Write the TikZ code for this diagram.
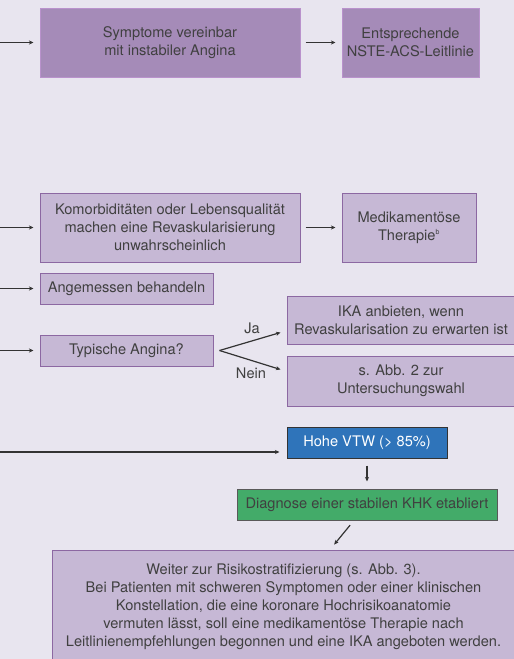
\documentclass[tikz,border=0pt]{standalone}
\usepackage{fontspec}
\setmainfont{TeX Gyre Heros}
\usetikzlibrary{arrows.meta,calc}
\definecolor{bgcol}{HTML}{E8E5EF}
\definecolor{darkfill}{HTML}{A58BB8}
\definecolor{darkline}{HTML}{B992CC}
\definecolor{lightfill}{HTML}{C6B8D5}
\definecolor{lightline}{HTML}{8C68A2}
\definecolor{bluefill}{HTML}{2F74BA}
\definecolor{greenfill}{HTML}{43AB69}
\definecolor{txt}{HTML}{404040}
\definecolor{arrcol}{HTML}{333333}
\begin{document}
\begin{tikzpicture}[x=1pt,y=-1pt,
  every node/.style={font=\fontsize{14.6}{17.9}\selectfont, text=txt, align=center, inner sep=0pt},
  boxbase/.style={rectangle, line width=1pt},
  strongbox/.style={boxbase, fill=darkfill, draw=darkline},
  softbox/.style={boxbase, fill=lightfill, draw=lightline},
  vtwbox/.style={boxbase, fill=bluefill, draw=arrcol, text=white},
  khkbox/.style={boxbase, fill=greenfill, draw=black!65},
  arr/.style={draw=arrcol, line width=1.2pt, -{Stealth[length=4.5pt,width=4pt,inset=1.2pt]}},
  branchlbl/.style={text=txt}
]
% canvas
\fill[bgcol] (0,0) rectangle (514,659);
\useasboundingbox (0,0) rectangle (514,659);

% boxes
\node[strongbox, minimum width=260pt, minimum height=69pt] (sym) at (170,42.5)
  {Symptome vereinbar\\mit instabiler Angina};
\node[strongbox, minimum width=137pt, minimum height=69pt] (nste) at (410.5,42.5)
  {Entsprechende\\NSTE-ACS-Leitlinie};

\node[softbox, minimum width=260pt, minimum height=69pt] (kom) at (170,227.5)
  {Komorbiditäten oder Lebensqualität\\machen eine Revaskularisierung\\unwahrscheinlich};
\node[softbox, minimum width=134pt, minimum height=69pt] (med) at (409,227.5)
  {Medikamentöse\\Therapie\textsuperscript{\fontsize{7}{8}\selectfont b}};

\node[softbox, minimum width=173pt, minimum height=31pt] (ang) at (126.5,288.5)
  {Angemessen behandeln};
\node[softbox, minimum width=173pt, minimum height=31pt] (typ) at (126.5,350.5)
  {Typische Angina?};

\node[softbox, minimum width=228pt, minimum height=48pt] (ika) at (401,320)
  {IKA anbieten, wenn\\Revaskularisation zu erwarten ist};
\node[softbox, minimum width=228pt, minimum height=50pt] (abb) at (401,381)
  {s. Abb. 2 zur\\Untersuchungswahl};

\node[vtwbox, minimum width=160pt, minimum height=31pt] (vtw) at (367,442.5)
  {Hohe VTW (> 85\%)};
\node[khkbox, minimum width=260pt, minimum height=31pt] (khk) at (367,504.5)
  {Diagnose einer stabilen KHK etabliert};

\node[softbox, minimum width=463pt, minimum height=112pt, anchor=north] (risk) at (283.5,550)
  {Weiter zur Risikostratifizierung (s. Abb. 3).\\
   Bei Patienten mit schweren Symptomen oder einer klinischen\\
   Konstellation, die eine koronare Hochrisikoanatomie\\
   vermuten lässt, soll eine medikamentöse Therapie nach\\
   Leitlinienempfehlungen begonnen und eine IKA angeboten werden.};

% incoming connectors from the left margin
\coordinate (in1) at (0,42.5);
\coordinate (in2) at (0,227.5);
\coordinate (in3) at (0,288.5);
\coordinate (in4) at (0,350.5);
\coordinate (in5) at (0,452);
\draw[arr, shorten >=6pt] (in1) -- (sym);
\draw[arr, shorten >=6pt] (in2) -- (kom);
\draw[arr, shorten >=6pt] (in3) -- (ang);
\draw[arr, shorten >=6pt] (in4) -- (typ);
\draw[arr] (in5) -- ($(vtw.west |- in5)+(-7,0)$);

% horizontal connectors between boxes
\draw[arr, shorten <=5pt, shorten >=6pt] (sym) -- (nste);
\draw[arr, shorten <=5pt, shorten >=6pt] (kom) -- (med);

% decision branches
\coordinate (fork) at ($(typ.east)+(6,0)$);
\draw[arr] (fork) -- ($(ika.south west)+(-6,-12)$);
\draw[arr] (fork) -- ($(abb.north west)+(-6,14)$);
\node[branchlbl] (ja) at (252,328) {Ja};
\node[branchlbl] (nein) at (251,373) {Nein};

% vertical connectors
\draw[arr, shorten <=7pt, shorten >=7pt] (vtw) -- (khk);
\draw[arr, shorten <=6pt, shorten >=7pt] (khk) -- (risk);
\end{tikzpicture}
\end{document}
